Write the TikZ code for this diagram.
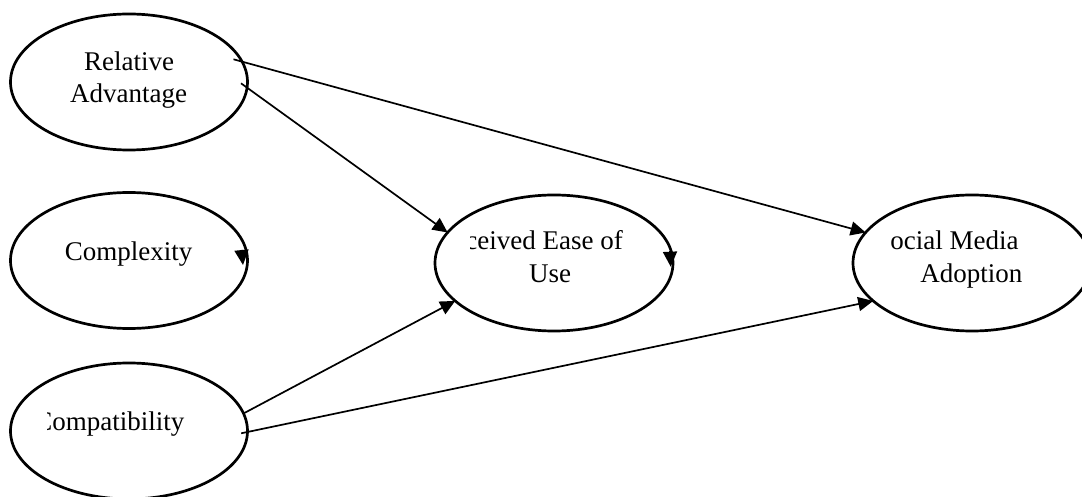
\documentclass[tikz,border=0pt]{standalone}
\usepackage{fontspec}
\setmainfont{Liberation Serif}
\usetikzlibrary{shapes.geometric,arrows.meta}
\begin{document}
\begin{tikzpicture}[x=0.5pt,y=-0.5pt,
  construct/.style={draw, ellipse, line width=1.35pt, inner sep=0pt, outer sep=0pt,
                    minimum width=118.5pt, minimum height=68pt},
  wide/.style={minimum width=119pt},
  lbl/.style={inner sep=0pt, font=\fontsize{13.5pt}{16pt}\selectfont},
  link/.style={line width=0.85pt, -{Triangle[length=7.5pt,width=7pt]}}]
\clip (0,0) rectangle (1082,497);

% constructs
\node[construct] (ra)  at (129,82)    {};
\node[construct] (cx)  at (129,260.5) {};
\node[construct] (cp)  at (129,431)   {};
\node[construct,wide] (pe)  at (554,263) {};
\node[construct,wide] (sma) at (972,263) {};

% labels
\node[lbl,anchor=base] (ra1) at (129,70.7)  {Relative};
\node[lbl,anchor=base] (ra2) at (128.5,102.7) {Advantage};
\node[lbl,anchor=base] (cxt) at (128.5,261) {Complexity};
\begin{scope}
  \clip (47,380) rectangle (240,470);
  \node[lbl,anchor=base west] (cpt) at (34,430) {Compatibility};
\end{scope}
\begin{scope}
  \clip (470,220) rectangle (660,300);
  \node[lbl,anchor=base west] (pe1) at (429,250) {Perceived Ease of};
  \node[lbl,anchor=base] (pe2) at (550,283) {Use};
\end{scope}
\begin{scope}
  \clip (889,220) rectangle (1082,300);
  \node[lbl,anchor=base west] (sma1) at (875,250) {Social Media};
  \node[lbl,anchor=base west] (sma2) at (920,283) {Adoption};
\end{scope}

% paths
\draw[link] ([shift={(104.5,-22.7)}]ra.center) -- (sma.164.5);
\draw[link] ([shift={(112,1.3)}]ra.center) -- (pe.164);
\draw[link] ([shift={(114.8,-17.7)}]cp.center) -- (pe.201.3);
\draw[link] ([shift={(112.2,2.3)}]cp.center) -- (sma.201.75);

% arrowheads resting on the outlines
\draw[link] ([shift={(112.5,-10.5)}]cx.center) -- ([shift={(114,4.5)}]cx.center);
\draw[link] ([shift={(116,-12)}]pe.center) -- ([shift={(116.7,3.7)}]pe.center);
\end{tikzpicture}
\end{document}
